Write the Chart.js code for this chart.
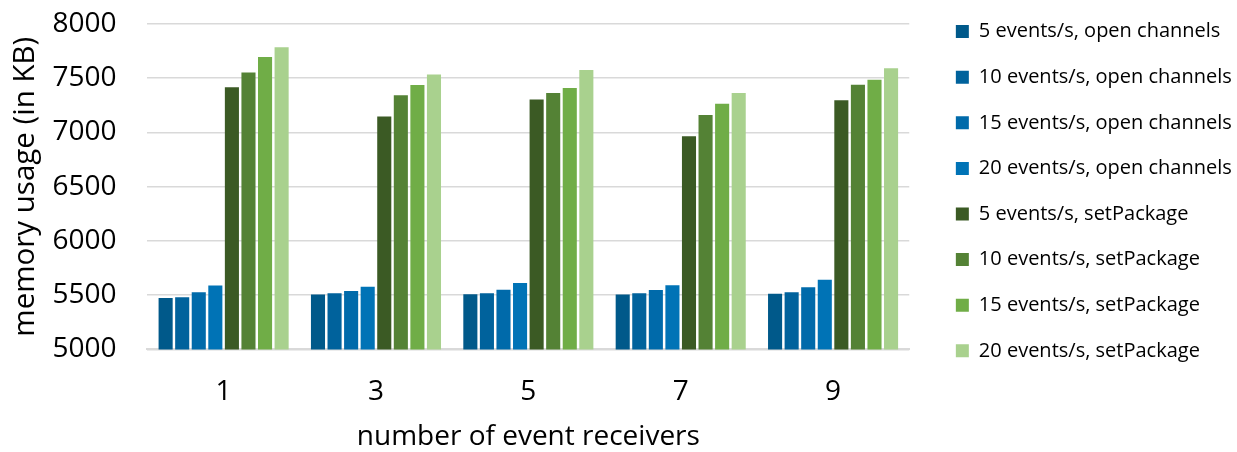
<!DOCTYPE html>
<html>
<head>
<meta charset="utf-8">
<script src="https://cdn.jsdelivr.net/npm/chart.js@4.4.1/dist/chart.umd.min.js"></script>
<style>
  html, body { margin: 0; padding: 0; background: #ffffff; }
  #wrap { width: 1237px; height: 452px; position: relative; }
</style>
</head>
<body>
<div id="wrap"><canvas id="c" width="1237" height="452"></canvas></div>
<script>
const categories = ["1", "3", "5", "7", "9"];
const seriesLabels = [
  "5 events/s, open channels",
  "10 events/s, open channels",
  "15 events/s, open channels",
  "20 events/s, open channels",
  "5 events/s, setPackage",
  "10 events/s, setPackage",
  "15 events/s, setPackage",
  "20 events/s, setPackage"
];
const open5  = [5473, 5505, 5508, 5505, 5514];
const open10 = [5480, 5517, 5517, 5517, 5526];
const open15 = [5526, 5538, 5551, 5548, 5572];
const open20 = [5588, 5578, 5612, 5591, 5643];
const set5   = [7418, 7148, 7305, 6966, 7298];
const set10  = [7554, 7344, 7363, 7160, 7440];
const set15  = [7695, 7437, 7409, 7265, 7486];
const set20  = [7785, 7535, 7575, 7363, 7591];
const seriesValues = [open5, open10, open15, open20, set5, set10, set15, set20];
const seriesColors = ["#00598A", "#00629C", "#006AAA", "#0073B6", "#3B5A24", "#548235", "#70AD47", "#A9D18E"];
const yTicks = { min: 5000, max: 8000, step: 500 };

const FONT = "'Open Sans', sans-serif";
Chart.defaults.font.family = FONT;
Chart.defaults.color = "#000000";

const LEGEND_EXTRA = 17;  // extra gap between plot and legend
const LEGEND_DX = 4;
const LEGEND_DY = 28;

const legendGap = {
  id: "legendGap",
  beforeInit(chart) {
    const lg = chart.legend;
    const origFit = lg.fit;
    lg.fit = function () {
      origFit.call(this);
      this.width += LEGEND_EXTRA;
    };
  },
  afterLayout(chart) {
    const lg = chart.legend;
    lg.left += LEGEND_EXTRA + LEGEND_DX;
    lg.right += LEGEND_DX;
    lg.top -= LEGEND_DY;
    lg.bottom -= LEGEND_DY;
  }
};

new Chart(document.getElementById("c"), {
  type: "bar",
  data: {
    labels: categories,
    datasets: seriesLabels.map((lab, i) => ({
      label: lab,
      data: seriesValues[i],
      backgroundColor: seriesColors[i],
      borderWidth: 0,
      barPercentage: 0.85,
      categoryPercentage: 0.87
    }))
  },
  options: {
    responsive: false,
    animation: false,
    layout: { padding: { top: 24, right: 2, bottom: 0, left: 0 } },
    plugins: {
      tooltip: { enabled: false },
      legend: {
        position: "right",
        align: "start",
        labels: {
          boxWidth: 13,
          boxHeight: 13,
          padding: 25.6,
          font: { size: 20, family: FONT },
          color: "#000000"
        }
      }
    },
    scales: {
      x: {
        grid: { display: false, drawTicks: false },
        border: { display: true, color: "#d9d9d9", width: 2 },
        ticks: { padding: 26, font: { size: 28, family: FONT, lineHeight: 1.2 }, color: "#000000" },
        title: { display: true, text: "number of event receivers", font: { size: 28, family: FONT, lineHeight: 0.15 }, color: "#000000", padding: { top: 0, bottom: 12.8 } }
      },
      y: {
        min: yTicks.min,
        max: yTicks.max,
        grid: { color: "#d9d9d9", lineWidth: 1.5, drawTicks: true, tickLength: 28, tickColor: "rgba(0,0,0,0)" },
        border: { display: false },
        ticks: { stepSize: yTicks.step, padding: 3, font: { size: 28, family: FONT }, color: "#000000", callback: (v) => String(v) },
        title: { display: true, text: "memory usage (in KB)", font: { size: 29.5, family: FONT }, color: "#000000", padding: { top: 8, bottom: 6 } }
      }
    }
  },
  plugins: [legendGap]
});
</script>
</body>
</html>
